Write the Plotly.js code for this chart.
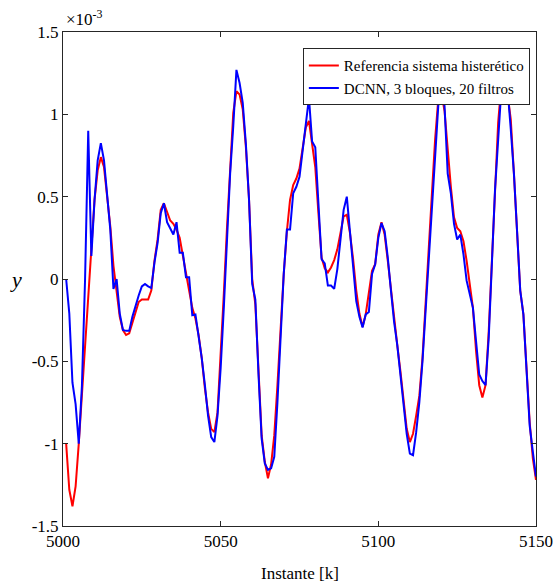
<!DOCTYPE html>
<html>
<head>
<meta charset="utf-8">
<script src="https://cdn.plot.ly/plotly-3.0.1.min.js"></script>
<style>html,body{margin:0;padding:0;background:#fff;}#chart{width:556px;height:588px;}</style>
</head>
<body>
<div id="chart"></div>
<script>
// Instants k = 5001 ... 5150 (one sample per instant)
const START_K = 5001;
// Values in units of 1e-3
const referencia = [
 -1.00,-1.28,-1.38,-1.26,-1.00,-0.70,-0.39,-0.09,0.20,0.48,
 0.66,0.74,0.68,0.50,0.32,0.08,-0.09,-0.23,-0.31,-0.34,
 -0.33,-0.27,-0.20,-0.14,-0.125,-0.125,-0.125,-0.07,0.11,0.24,
 0.42,0.46,0.41,0.355,0.335,0.30,0.25,0.15,0.03,-0.07,
 -0.175,-0.24,-0.34,-0.48,-0.665,-0.81,-0.91,-0.93,-0.81,-0.48,
 -0.09,0.31,0.68,1.01,1.14,1.12,1.03,0.80,0.48,0.00,
 -0.155,-0.58,-0.95,-1.11,-1.21,-1.125,-0.95,-0.645,-0.30,0.03,
 0.29,0.48,0.57,0.61,0.67,0.80,0.92,0.96,0.82,0.68,
 0.40,0.13,0.065,0.04,0.07,0.115,0.18,0.27,0.38,0.39,
 0.28,0.12,-0.07,-0.21,-0.29,-0.215,-0.09,0.05,0.09,0.27,
 0.345,0.27,0.11,-0.07,-0.26,-0.40,-0.56,-0.75,-0.91,-0.99,
 -0.94,-0.83,-0.71,-0.48,-0.175,0.19,0.52,0.845,1.09,1.13,
 1.02,0.76,0.56,0.375,0.31,0.29,0.23,0.11,-0.03,-0.175,
 -0.44,-0.645,-0.72,-0.645,-0.32,0.11,0.54,0.95,1.18,1.22,
 1.12,0.97,0.64,0.31,-0.07,-0.215,-0.54,-0.87,-1.09,-1.22
];
const dcnn = [
 0.00,-0.21,-0.63,-0.76,-1.00,-0.65,0.00,0.90,0.14,0.48,
 0.72,0.825,0.72,0.52,0.30,-0.06,0.00,-0.21,-0.31,-0.315,
 -0.315,-0.23,-0.16,-0.10,-0.045,-0.03,-0.045,-0.055,0.10,0.22,
 0.40,0.46,0.345,0.31,0.27,0.345,0.16,0.16,0.01,0.01,
 -0.22,-0.215,-0.34,-0.48,-0.645,-0.83,-0.96,-0.99,-0.83,-0.54,
 -0.175,0.21,0.64,0.93,1.27,1.19,1.07,0.82,0.48,-0.03,
 -0.125,-0.58,-0.97,-1.12,-1.16,-1.15,-1.08,-0.75,-0.34,0.03,
 0.30,0.30,0.52,0.56,0.62,0.78,0.95,1.10,0.835,0.80,
 0.46,0.12,0.095,-0.04,-0.04,-0.06,0.06,0.24,0.42,0.50,
 0.30,0.11,-0.135,-0.23,-0.295,-0.215,-0.20,0.03,0.09,0.25,
 0.34,0.29,0.13,-0.07,-0.26,-0.40,-0.58,-0.77,-0.94,-1.06,
 -1.07,-0.93,-0.75,-0.50,-0.175,0.13,0.42,0.76,1.05,1.17,
 1.05,0.64,0.52,0.335,0.24,0.27,0.15,-0.01,-0.09,-0.175,
 -0.38,-0.58,-0.62,-0.645,-0.36,0.07,0.54,0.845,1.15,1.25,
 1.15,0.91,0.64,0.29,-0.07,-0.215,-0.56,-0.89,-1.05,-1.20
];
const seriesNames = ['Referencia sistema histerético','DCNN, 3 bloques, 20 filtros'];
const xTicks = [5000,5050,5100,5150];
const yTicks = [-1.5,-1,-0.5,0,0.5,1,1.5];
const yTickText = ['-1.5','-1','-0.5','0','0.5','1','1.5'];

const FONT = 'Liberation Serif';
const AX = '#262626';

const traces = [
  {type:'scatter',mode:'lines',name:seriesNames[0],x0:START_K,dx:1,y:referencia,
   line:{color:'#ff0000',width:2}},
  {type:'scatter',mode:'lines',name:seriesNames[1],x0:START_K,dx:1,y:dcnn,
   line:{color:'#0000ff',width:2}}
];

const layout = {
  width:556,height:588,
  margin:{l:63,r:20,t:32,b:62,pad:0},
  paper_bgcolor:'#ffffff',plot_bgcolor:'#ffffff',
  font:{family:FONT,color:'#000'},
  showlegend:true,
  legend:{x:0.987,xanchor:'right',y:0.967,yanchor:'top',
    bgcolor:'#ffffff',bordercolor:AX,borderwidth:1,
    font:{family:FONT,size:15,color:'#000'},tracegroupgap:0},
  xaxis:{range:[5000,5150],tickmode:'array',tickvals:xTicks,
    ticks:'inside',ticklen:5,tickcolor:AX,showline:true,linecolor:AX,linewidth:1,
    mirror:'ticks',showgrid:false,zeroline:false,
    tickfont:{family:FONT,size:17,color:'#000'}},
  yaxis:{range:[-1.5,1.5],tickmode:'array',tickvals:yTicks,ticktext:yTickText,
    ticks:'inside',ticklen:5,tickcolor:AX,showline:true,linecolor:AX,linewidth:1,
    mirror:'ticks',showgrid:false,zeroline:false,
    tickfont:{family:FONT,size:17,color:'#000'}},
  annotations:[
    {xref:'paper',yref:'paper',x:0.5,y:0,yshift:-36,xanchor:'center',yanchor:'top',
     text:'Instante [k]',showarrow:false,font:{family:FONT,size:17,color:'#000'}},
    {xref:'paper',yref:'paper',x:0,xshift:-47,y:0.5,xanchor:'center',yanchor:'middle',
     text:'<i>y</i>',showarrow:false,font:{family:FONT,size:22,color:'#000'}},
    {xref:'paper',yref:'paper',x:0,xshift:1,y:1,yshift:1,xanchor:'left',yanchor:'bottom',
     text:'×10<sup>-3</sup>',showarrow:false,font:{family:FONT,size:17,color:'#000'}}
  ]
};

Plotly.newPlot('chart',traces,layout,{displayModeBar:false,staticPlot:true});
</script>
</body>
</html>
